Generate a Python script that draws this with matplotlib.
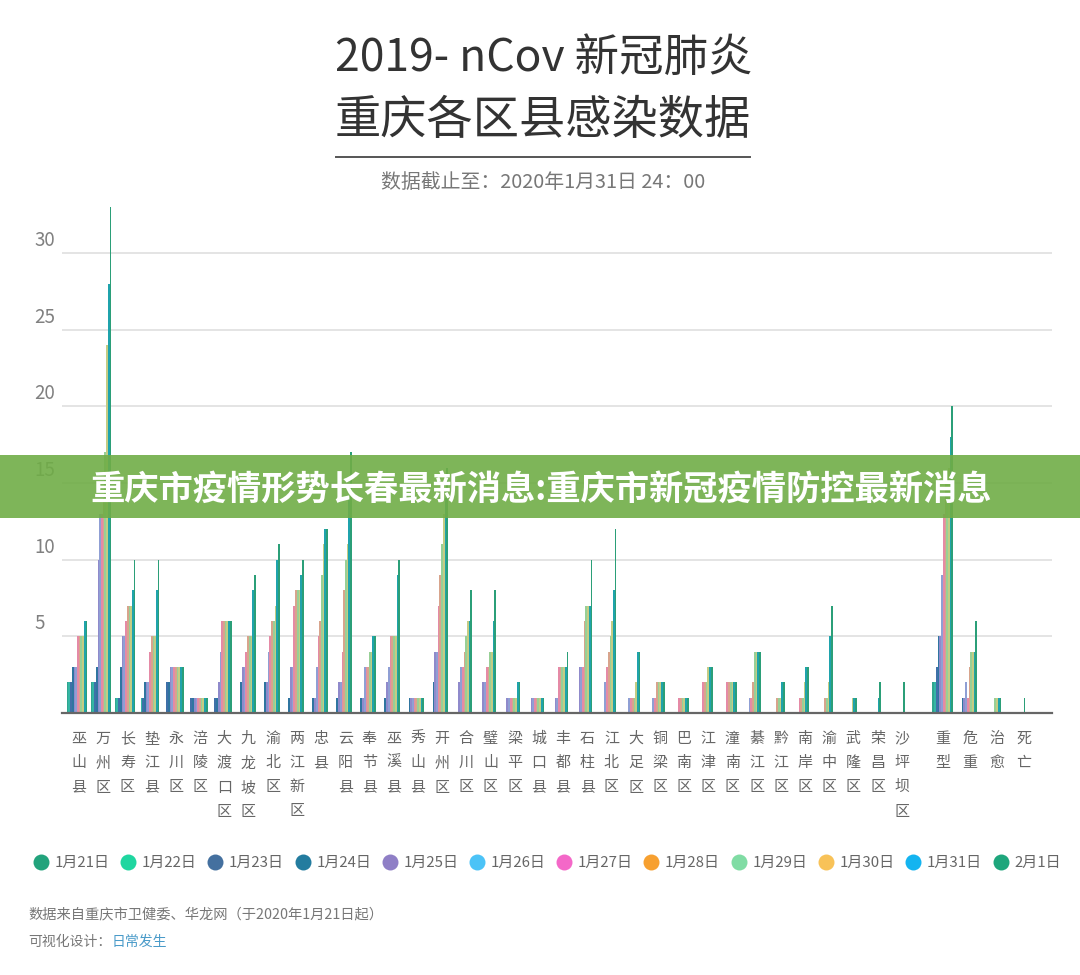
import numpy as np
import matplotlib
matplotlib.use("Agg")
import matplotlib.pyplot as plt
from matplotlib.lines import Line2D
from matplotlib.patches import Rectangle

plt.rcParams["font.family"] = ["Noto Sans CJK SC", "DejaVu Sans"]

districts = [
    "巫山县", "万州区", "长寿区", "垫江县", "永川区", "涪陵区", "大渡口区", "九龙坡区",
    "渝北区", "两江新区", "忠县", "云阳县", "奉节县", "巫溪县", "秀山县", "开州区",
    "合川区", "璧山区", "梁平区", "城口县", "丰都县", "石柱县", "江北区", "大足区",
    "铜梁区", "巴南区", "江津区", "潼南区", "綦江区", "黔江区", "南岸区", "渝中区",
    "武隆区", "荣昌区", "沙坪坝区",
]
summary = ["重型", "危重", "治愈", "死亡"]

days = ["1月21日", "1月22日", "1月23日", "1月24日", "1月25日", "1月26日",
        "1月27日", "1月28日", "1月29日", "1月30日", "1月31日", "2月1日"]

legend_colors = ["#22a37c", "#1fd6a0", "#44709f", "#237c9f", "#8f7fc6", "#4cc3f7",
                 "#f468c8", "#f7a030", "#80dca4", "#f8c258", "#14b4f0", "#1ea67c"]

# the thin bars come out duller than the legend dots in the picture
bar_colors = ["#2fa68e", "#35b5a5", "#3f70a8", "#2f75a0", "#8f8acb", "#8f9fd4",
              "#e58aa6", "#d8a48c", "#98d096", "#c4cc84", "#1fa3ac", "#2b9f78"]

# 35 districts, one empty slot, then the 4 summary groups
jan21 = [2, 2, 1, 0, 0, 0, 0, 0, 0, 0, 0, 0, 0, 0, 0, 0, 0, 0, 0, 0,
         0, 0, 0, 0, 0, 0, 0, 0, 0, 0, 0, 0, 0, 0, 0, 0, 2, 0, 0, 0]
jan22 = [2, 2, 1, 1, 0, 0, 0, 0, 0, 0, 0, 0, 0, 0, 0, 0, 0, 0, 0, 0,
         0, 0, 0, 0, 0, 0, 0, 0, 0, 0, 0, 0, 0, 0, 0, 0, 2, 0, 0, 0]
jan23 = [2, 2, 1, 1, 2, 1, 1, 0, 0, 0, 0, 0, 0, 0, 0, 0, 0, 0, 0, 0,
         0, 0, 0, 0, 0, 0, 0, 0, 0, 0, 0, 0, 0, 0, 0, 0, 3, 0, 0, 0]
jan24 = [3, 3, 3, 2, 2, 1, 1, 2, 2, 1, 1, 1, 1, 1, 1, 2, 0, 0, 0, 0,
         0, 0, 0, 0, 0, 0, 0, 0, 0, 0, 0, 0, 0, 0, 0, 0, 5, 1, 0, 0]
jan25 = [3, 10, 5, 2, 3, 1, 2, 3, 2, 3, 1, 2, 1, 2, 1, 4, 2, 2, 1, 1,
         1, 3, 0, 0, 0, 0, 0, 0, 0, 0, 0, 0, 0, 0, 0, 0, 5, 1, 0, 0]
jan26 = [3, 13, 5, 2, 3, 1, 4, 3, 4, 3, 3, 2, 3, 3, 1, 4, 3, 2, 1, 1,
         1, 3, 2, 1, 1, 0, 0, 0, 1, 0, 0, 0, 0, 0, 0, 0, 9, 2, 0, 0]
jan27 = [5, 13, 6, 4, 3, 1, 6, 4, 5, 7, 5, 4, 3, 5, 1, 7, 3, 3, 1, 1,
         3, 3, 3, 1, 1, 1, 2, 2, 1, 0, 1, 0, 0, 0, 0, 0, 13, 1, 0, 0]
jan28 = [5, 14, 7, 5, 3, 1, 6, 5, 6, 8, 6, 8, 3, 5, 1, 9, 4, 3, 1, 1,
         3, 6, 4, 1, 2, 1, 2, 2, 2, 1, 1, 1, 0, 0, 0, 0, 15, 3, 0, 0]
jan29 = [5, 17, 7, 5, 3, 1, 6, 5, 6, 8, 9, 10, 4, 5, 1, 11, 5, 4, 1, 1,
         3, 7, 5, 1, 2, 1, 2, 2, 4, 1, 1, 1, 0, 0, 0, 0, 15, 4, 1, 0]
jan30 = [5, 24, 7, 5, 3, 1, 6, 5, 7, 8, 11, 11, 4, 5, 1, 13, 6, 4, 1, 1,
         3, 7, 6, 2, 2, 1, 3, 2, 4, 1, 2, 2, 1, 0, 0, 0, 16, 4, 1, 0]
jan31 = [6, 28, 8, 8, 3, 1, 6, 8, 10, 9, 12, 14, 5, 9, 1, 14, 6, 6, 2, 1,
         3, 7, 8, 4, 2, 1, 3, 2, 4, 2, 3, 5, 1, 1, 0, 0, 18, 4, 1, 0]
feb01 = [6, 33, 10, 10, 3, 1, 6, 9, 11, 10, 12, 17, 5, 10, 1, 16, 8, 8, 2, 1,
         4, 10, 12, 4, 2, 1, 3, 2, 4, 2, 3, 7, 1, 2, 2, 0, 20, 6, 1, 1]

series = [jan21, jan22, jan23, jan24, jan25, jan26,
          jan27, jan28, jan29, jan30, jan31, feb01]

W, H = 1080, 975


def px_x(x):
    return x / W


def px_y(y):
    return 1 - y / H


fig = plt.figure(figsize=(W / 100, H / 100), dpi=100, facecolor="white")

# axes box in pixels: x 62..1052, baseline y=713, top y=200
ax = fig.add_axes([px_x(62), px_y(713), (1052 - 62) / W, (713 - 200) / H])
ax.patch.set_alpha(0)

group_step = 24.05
first_center = 77
ax.set_xlim((62 - first_center) / group_step, (1052 - first_center) / group_step)
ax.set_ylim(0, 33.46)

n_groups = len(jan21)
bar_w = 0.86 / len(series)
x = np.arange(n_groups)
for i, values in enumerate(series):
    ax.bar(x + (i - 5.5) * bar_w, values, width=bar_w, color=bar_colors[i],
           linewidth=0, zorder=3)

for side in ["top", "right", "left"]:
    ax.spines[side].set_visible(False)
ax.spines["bottom"].set_color("#666666")
ax.spines["bottom"].set_linewidth(1.6)
ax.spines["bottom"].set_zorder(4)

ax.set_yticks([5, 10, 15, 20, 25, 30])
ax.set_yticklabels([])
ax.tick_params(axis="y", length=0)
ax.yaxis.grid(True, color="#e2e2e2", linewidth=1.3, zorder=0)
ax.set_axisbelow(True)

# y labels sit above their gridlines
for v in ax.get_yticks():
    ax.annotate(str(int(v)), xy=(0, v), xycoords=ax.get_yaxis_transform(),
                xytext=(-20, 1.5), textcoords="offset points",
                ha="left", va="bottom", fontsize=13.5, color="#808080")

# tick labels are spaced a little differently from the bars
label_px = [79 + 24.2 * i for i in range(len(districts))]
label_px += [943 + 27 * i for i in range(len(summary))]
tick_pos = [(p - first_center) / group_step for p in label_px]
ax.set_xticks(tick_pos)
ax.set_xticklabels(["\n".join(name) for name in districts + summary],
                   fontsize=10.8, color="#666666", linespacing=1.93, va="top")
ax.tick_params(axis="x", length=0, pad=13.5)

# header
fig.text(px_x(335), px_y(58), "2019- nCov 新冠肺炎", fontsize=32, color="#333333",
         ha="left", va="center")
fig.text(px_x(543), px_y(121), "重庆各区县感染数据", fontsize=33.3, color="#333333",
         ha="center", va="center")
fig.add_artist(Line2D([px_x(336), px_x(750)], [px_y(157), px_y(157)],
                      color="#555555", linewidth=1.4))
fig.text(px_x(543), px_y(182), "数据截止至：2020年1月31日 24：00", fontsize=14.3,
         color="#777777", ha="center", va="center")

# banner across the chart, the bars still show faintly through it
fig.add_artist(Rectangle((0, px_y(518)), 1, (518 - 455) / H, transform=fig.transFigure,
                         facecolor="#70ad47", edgecolor="none", alpha=0.9, zorder=5))
fig.text(px_x(541), px_y(489), "重庆市疫情形势长春最新消息:重庆市新冠疫情防控最新消息",
         fontsize=24.7, fontweight="black", color="white", ha="center", va="center",
         zorder=6)

# legend
handles = [Line2D([], [], linestyle="none", marker="o", markersize=11.5,
                  markerfacecolor=c, markeredgewidth=0, label=d)
           for c, d in zip(legend_colors, days)]
fig.legend(handles=handles, ncol=12, loc="center left",
           bbox_to_anchor=(px_x(29), px_y(863)), frameon=False, fontsize=10.8,
           labelcolor="#666666", handletextpad=0.1, columnspacing=0.45,
           handlelength=1.6, borderpad=0, borderaxespad=0)

# footer
fig.text(px_x(28), px_y(914), "数据来自重庆市卫健委、华龙网（于2020年1月21日起）",
         fontsize=10.3, color="#777777", ha="left", va="center")
fig.text(px_x(28), px_y(942), "可视化设计：", fontsize=10, color="#777777",
         ha="left", va="center")
fig.text(px_x(112), px_y(942), "日常发生", fontsize=10, color="#4a9bc9",
         ha="left", va="center")

fig.savefig("out.png", dpi=100)
